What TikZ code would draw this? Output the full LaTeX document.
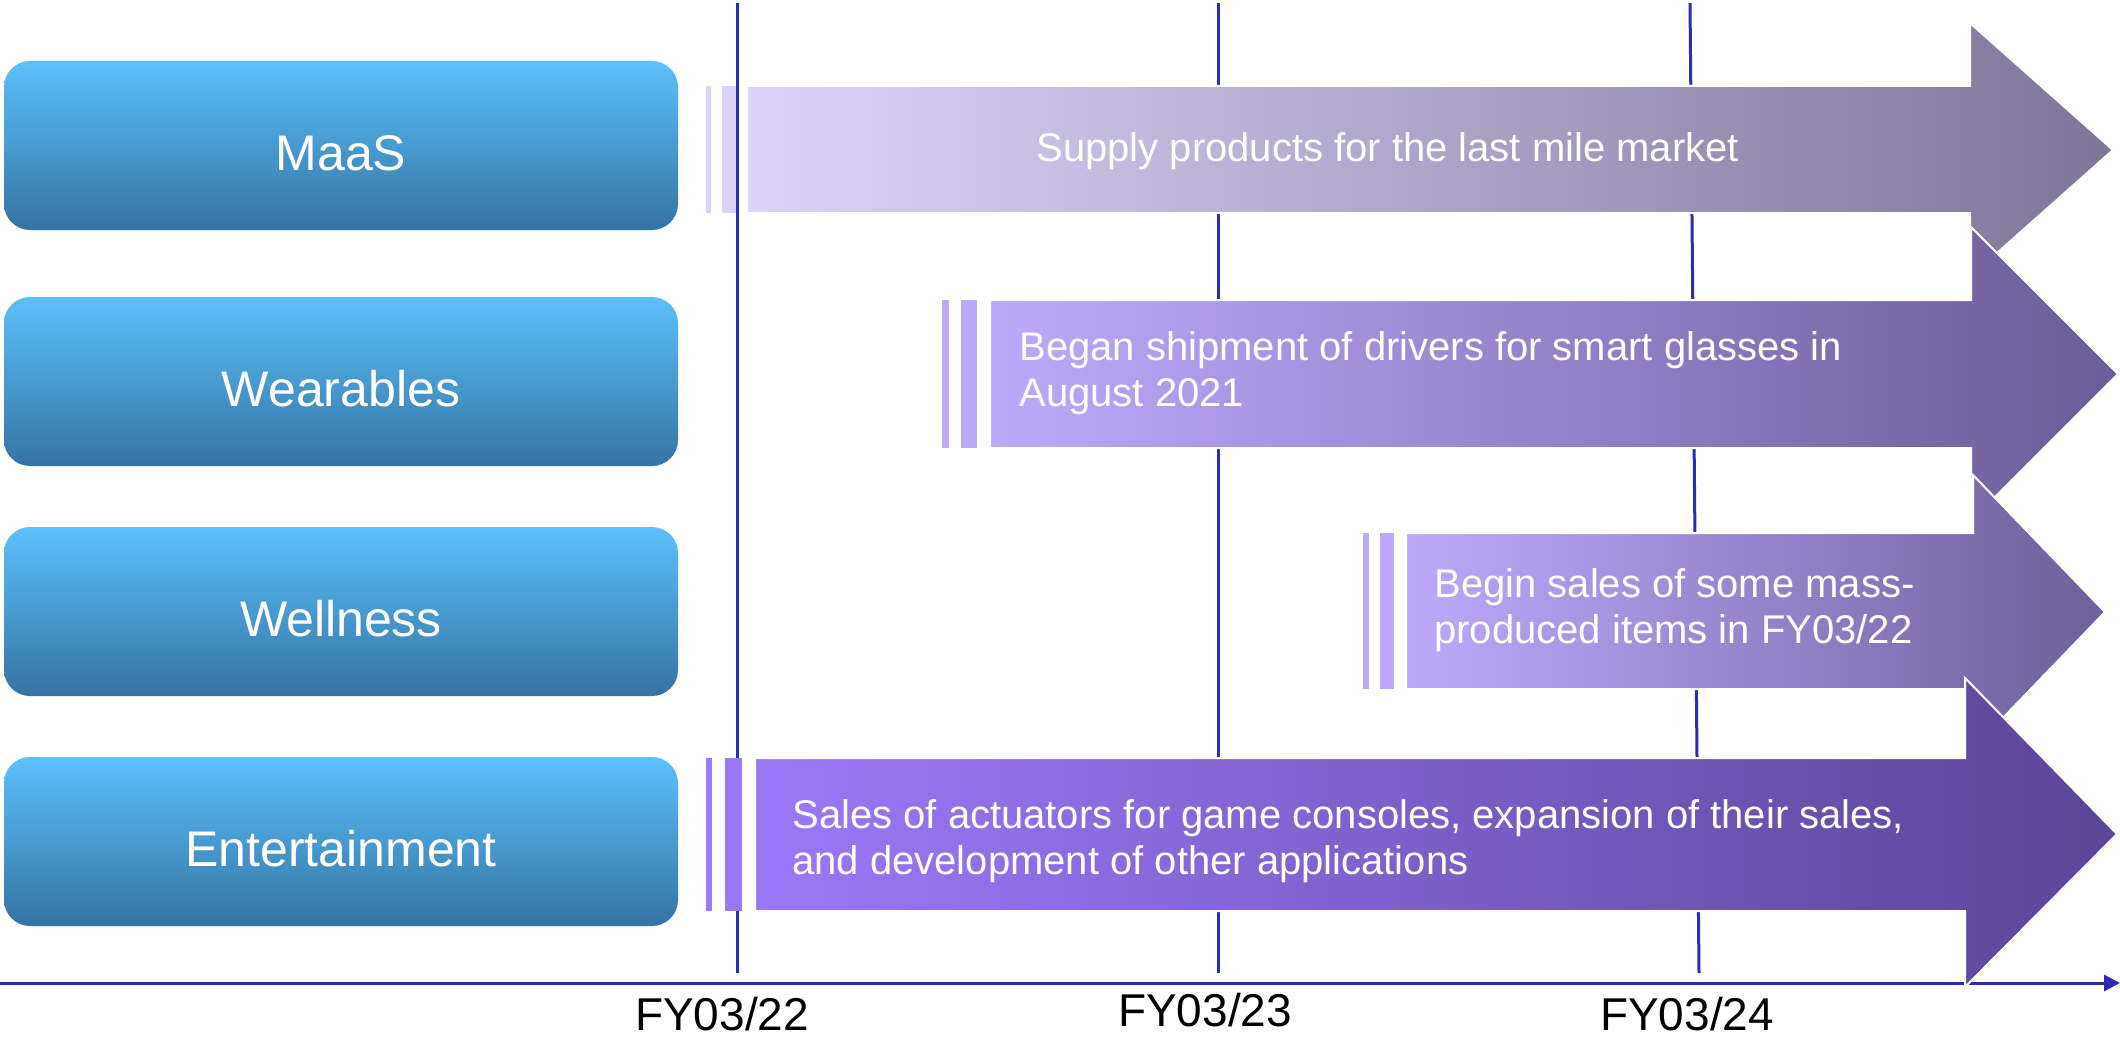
\documentclass[tikz,border=0pt]{standalone}
\usepackage{fontspec}
\setmainfont{Liberation Sans}
\usetikzlibrary{arrows.meta}

\definecolor{boxtop}{HTML}{5BC1FC}
\definecolor{boxbot}{HTML}{3573A3}
\definecolor{axisblue}{HTML}{2B2BB5}
\definecolor{maasL}{HTML}{DCD3FA}
\definecolor{maasR}{HTML}{7E7698}
\definecolor{wearL}{HTML}{BEA8FB}
\definecolor{wearR}{HTML}{6C5B98}
\definecolor{wellL}{HTML}{BEA8FB}
\definecolor{wellR}{HTML}{6F5F9B}
\definecolor{entL}{HTML}{9B78F8}
\definecolor{entR}{HTML}{5B4597}

\begin{document}
\begin{tikzpicture}
        [
            x=0.5pt,
            y=-0.5pt,
            cat/.style={rounded corners=13pt, minimum width=337pt, minimum height=84.5pt, inner sep=0pt, text height=25pt, text depth=0pt, top color=boxtop, bottom color=boxbot, text=white, font=\fontsize{25}{30}\selectfont},
            band/.style={draw=white, line width=1pt},
            info/.style={anchor=west, align=left, inner sep=0pt, text=white, font=\fontsize{20}{23}\selectfont},
            grid/.style={axisblue, line width=1.5pt},
            year/.style={anchor=base, inner sep=0pt, font=\fontsize{23}{26}\selectfont}
        ]
        \useasboundingbox (0,0) rectangle (2120,1038);

        % time grid and axis
        \coordinate (g1top) at (737,3);
        \coordinate (g1bot) at (737,973);
        \coordinate (g2top) at (1218,3);
        \coordinate (g2bot) at (1218,973);
        \coordinate (g3top) at (1690,3);
        \coordinate (g3bot) at (1699,973);
        \coordinate (axstart) at (0,983);
        \coordinate (axend) at (2120,983);
        \draw[grid] (g1top) -- (g1bot);
        \draw[grid] (g2top) -- (g2bot);
        \draw[grid] (g3top) -- (g3bot);
        \draw[grid, -{Triangle[length=8pt, width=8pt]}] (axstart) -- (axend);

        \node[year] (fy22) at (722,1030) {FY03/22};
        \node[year] (fy23) at (1205,1026) {FY03/23};
        \node[year] (fy24) at (1687,1030) {FY03/24};

        % categories
        \node[cat] (maas) at (341,145.5) {MaaS};
        \node[cat] (wear) at (341,381.5) {Wearables};
        \node[cat] (well) at (341,611.5) {Wellness};
        \node[cat] (ent) at (341,841.5) {Entertainment};

        % MaaS
        \fill[maasL] (706,86) rectangle (711,213);
        \fill[maasL] (722,86) rectangle (736,213);
        \path[band, left color=maasL, right color=maasR] (747,86) -- (1970,86) -- (1970,23) -- (2113,150) -- (1970,277) -- (1970,213) -- (747,213) -- cycle;
        \node[info] (maastext) at (1036,151) {Supply products for the last mile market};

        % Wearables
        \fill[wearL] (942,300) rectangle (949,448);
        \fill[wearL] (961,300) rectangle (977,448);
        \path[band, left color=wearL, right color=wearR] (990,300) -- (1971,300) -- (1971,227) -- (2118,374) -- (1971,521) -- (1971,448) -- (990,448) -- cycle;
        \node[info] (weartext) at (1019,373) {Began shipment of drivers for smart glasses in\\August 2021};

        % Wellness
        \fill[wellL] (1363,533) rectangle (1369,689);
        \fill[wellL] (1380,533) rectangle (1394,689);
        \path[band, left color=wellL, right color=wellR] (1406,533) -- (1973,533) -- (1973,475) -- (2105,612) -- (1973,749) -- (1973,689) -- (1406,689) -- cycle;
        \node[info] (welltext) at (1434,610) {Begin sales of some mass-\\produced items in FY03/22};

        % Entertainment
        \fill[entL] (706,758) rectangle (712,911);
        \fill[entL] (725,758) rectangle (742,911);
        \path[band, left color=entL, right color=entR] (755,758) -- (1965,758) -- (1965,678) -- (2117,834) -- (1965,987) -- (1965,911) -- (755,911) -- cycle;
        \node[info] (enttext) at (792,841) {Sales of actuators for game consoles, expansion of their sales,\\and development of other applications};

    \end{tikzpicture}
\end{document}
